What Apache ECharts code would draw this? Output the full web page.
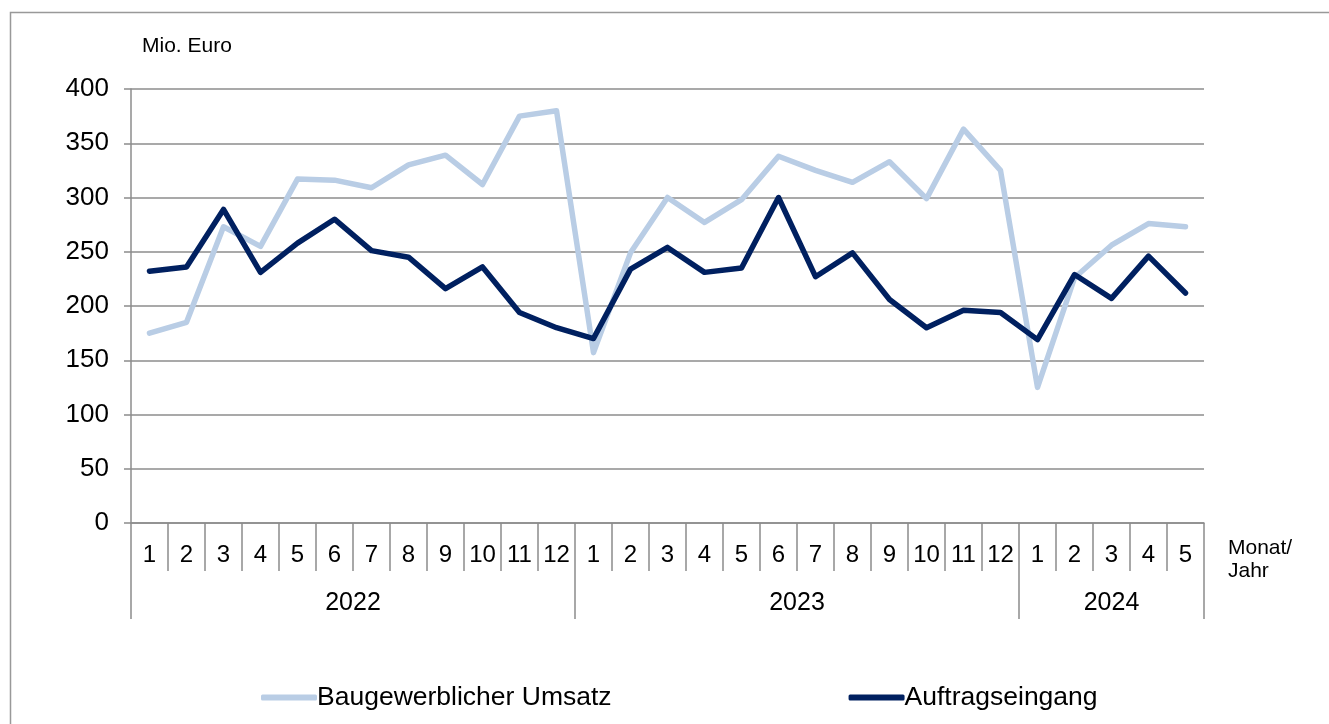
<!DOCTYPE html>
<html>
<head>
<meta charset="utf-8">
<script src="https://cdn.jsdelivr.net/npm/echarts@6/dist/echarts.min.js"></script>
<style>
html,body{margin:0;padding:0;background:#fff;}
#c{width:1329px;height:724px;}
</style>
</head>
<body>
<div id="c"></div>
<script>
const months = ['1','2','3','4','5','6','7','8','9','10','11','12','1','2','3','4','5','6','7','8','9','10','11','12','1','2','3','4','5'];
const years = ['2022','2023','2024'];
const monthsPerYear = [12, 12, 5];
const umsatz = [175,185,273,255,317,316,309,330,339,312,375,380, 157,249,300,277,298,338,325,314,333,299,363,325, 125,226,256,276,273];
const auftrag = [232,236,289,231,258,280,251,245,216,236,194,180, 170,234,254,231,235,300,227,249,206,180,196,194, 169,229,207,246,212];
const yTicks = [0,50,100,150,200,250,300,350,400];

const bounds = [0];
monthsPerYear.forEach(n => bounds.push(bounds[bounds.length-1] + n));
const yearCenters = years.map((y,i) => (bounds[i] + bounds[i+1]) / 2);

const FONT = '"Liberation Sans", Arial, sans-serif';
const GRAY = '#8c8c8c';

const chart = echarts.init(document.getElementById('c'), null, {renderer:'canvas'});
chart.setOption({
  backgroundColor:'#fff',
  animation:false,
  textStyle:{fontFamily:FONT},
  graphic:[
    {type:'rect', shape:{x:10.5,y:12.5,width:1400,height:800}, style:{fill:'none',stroke:'#999',lineWidth:1.5}, silent:true},
    {type:'text', left:142, top:36, style:{text:'Mio. Euro', font:'21px '+FONT, fill:'#000'}},
    {type:'text', left:1228, top:537, style:{text:'Monat/\nJahr', font:'21px '+FONT, fill:'#000', lineHeight:23}}
  ],
  grid:{left:131, right:125, top:89, bottom:201, containLabel:false},
  legend:{
    top:679, left:256,
    itemGap:237, itemWidth:56, itemHeight:6, icon:'roundRect',
    textStyle:{fontSize:26.5, color:'#000', fontFamily:FONT, padding:[0,0,0,-5]},
    data:['Baugewerblicher Umsatz','Auftragseingang']
  },
  xAxis:[
    {
      type:'category', data:months, boundaryGap:true, position:'bottom',
      axisLine:{show:true, lineStyle:{color:GRAY, width:1.5}},
      axisTick:{show:true, length:48, interval:0, lineStyle:{color:GRAY, width:1.5}},
      axisLabel:{interval:0, fontSize:24, color:'#000', margin:20, fontFamily:FONT}
    },
    {
      type:'value', min:0, max:bounds[bounds.length-1], position:'bottom',
      axisLine:{show:false},
      splitLine:{show:false},
      axisTick:{show:true, length:96, customValues:bounds, lineStyle:{color:GRAY, width:1.5}},
      axisLabel:{show:true, customValues:yearCenters, fontSize:25, color:'#000', margin:68, fontFamily:FONT,
        formatter:function(v){ const i = yearCenters.indexOf(v); return i>=0 ? years[i] : ''; }}
    }
  ],
  yAxis:{
    type:'value', min:0, max:400, interval:50,
    axisLine:{show:true, lineStyle:{color:GRAY, width:1.5}},
    axisTick:{show:true, length:7, lineStyle:{color:GRAY, width:1.5}},
    axisLabel:{fontSize:26, color:'#000', margin:22, fontFamily:FONT,
      formatter:function(v){ return yTicks.indexOf(v)>=0 ? String(v) : ''; }},
    splitLine:{show:true, lineStyle:{color:GRAY, width:1.5}}
  },
  series:[
    {name:'Baugewerblicher Umsatz', type:'line', data:umsatz, xAxisIndex:0, symbol:'none',
      lineStyle:{color:'#b9cde5', width:5.5, cap:'round', join:'round'}, itemStyle:{color:'#b9cde5'}},
    {name:'Auftragseingang', type:'line', data:auftrag, xAxisIndex:0, symbol:'none',
      lineStyle:{color:'#002060', width:5.5, cap:'round', join:'round'}, itemStyle:{color:'#002060'}}
  ]
});
</script>
</body>
</html>
